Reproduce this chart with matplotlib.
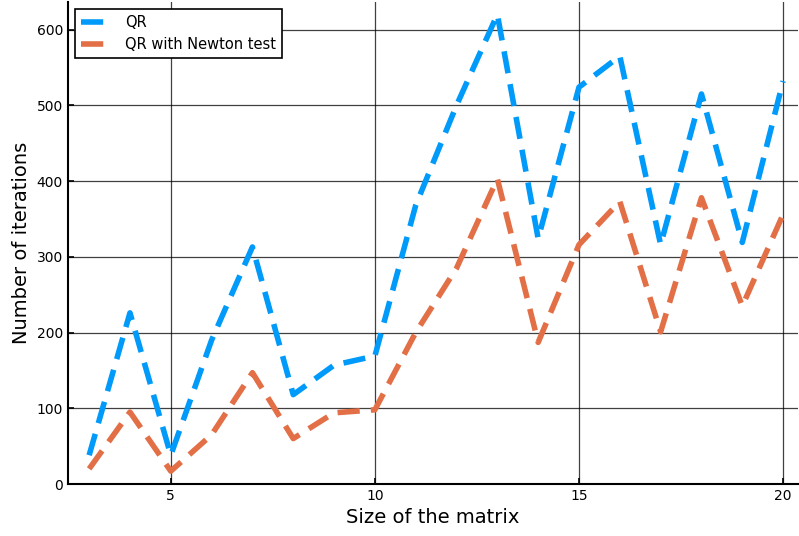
import matplotlib
matplotlib.use("Agg")
import matplotlib.pyplot as plt

# matrix sizes and iteration counts
sizes = list(range(3, 21))
qr_iters = [38, 226, 38, 190, 313, 118, 157, 169, 368, 500, 620, 324, 524, 565, 316, 515, 319, 532]
qr_newton_iters = [20, 95, 17, 65, 147, 60, 94, 98, 200, 285, 403, 187, 316, 373, 201, 378, 235, 356]

fig, ax = plt.subplots(figsize=(7.99, 5.36), dpi=100)

ax.plot(sizes, qr_iters, color="#009AFA", lw=4, ls=(0, (4, 2)), label="QR")
ax.plot(sizes, qr_newton_iters, color="#E26F46", lw=4, ls=(0, (4, 2)), label="QR with Newton test")

ax.set_xlim(2.48, 20.37)
ax.set_ylim(0, 637)
ax.set_xticks([5, 10, 15, 20])
ax.set_yticks(range(0, 601, 100))

# Plots.jl-like look
ax.grid(True, color="black", lw=0.9, alpha=0.75)
ax.set_axisbelow(True)
for side in ["top", "right"]:
    ax.spines[side].set_visible(False)
for side in ["left", "bottom"]:
    ax.spines[side].set_linewidth(1.5)
ax.tick_params(direction="in", length=4, width=1.2, labelsize=10)

ax.set_xlabel("Size of the matrix", fontsize=14)
ax.set_ylabel("Number of iterations", fontsize=14)

leg = ax.legend(loc="upper left", fontsize=10.5, fancybox=False, framealpha=1,
                edgecolor="black", handlelength=2.2, borderaxespad=0.5)
leg.get_frame().set_linewidth(1.2)

fig.subplots_adjust(left=0.085, right=0.999, top=0.997, bottom=0.097)
fig.savefig("out.png", dpi=100)
